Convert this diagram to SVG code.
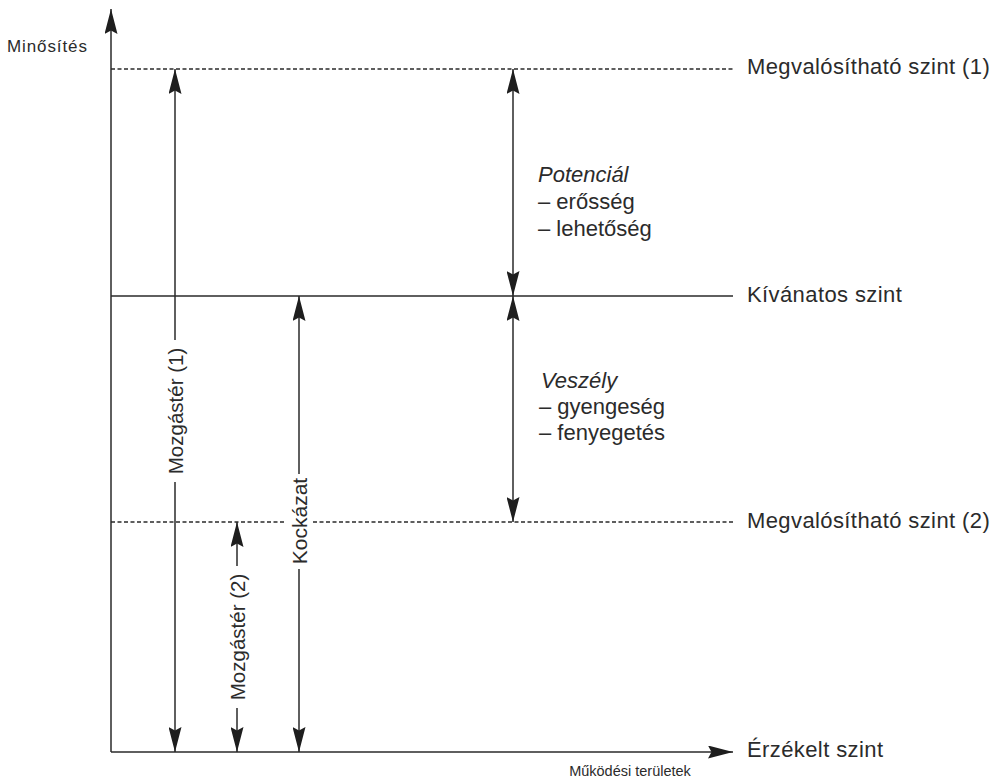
<svg xmlns="http://www.w3.org/2000/svg" width="1000" height="781" viewBox="0 0 1000 781">
  <style>
    .ln { stroke: #2a2a2a; stroke-width: 1.5; fill: none; }
    .dash { stroke: #2a2a2a; stroke-width: 1.4; stroke-dasharray: 4 2.5; fill: none; }
    .t { font-family: "Liberation Sans", Arial, sans-serif; fill: #2b2b2b; }
    .lvl { font-size: 22px; letter-spacing: 0.4px; }
    .sw { font-size: 22px; }
    .rot { font-size: 20.5px; text-anchor: middle; }
    .ax { font-size: 14.5px; }
  </style>
  <defs>
    <marker id="ah" viewBox="0 0 25 13" refX="25" refY="6.5" markerWidth="25" markerHeight="13" markerUnits="userSpaceOnUse" orient="auto-start-reverse">
      <path d="M0,0 L25,6.5 L0,13 L3.5,6.5 Z" fill="#1e1e1e"/>
    </marker>
  </defs>
  <rect width="1000" height="781" fill="#ffffff"/>

  <!-- level lines -->
  <g id="levels">
    <line class="dash" x1="111" y1="69" x2="735" y2="69"/>
    <line class="ln" x1="111" y1="296" x2="733" y2="296"/>
    <line class="dash" x1="111" y1="522" x2="285" y2="522"/>
    <line class="dash" x1="313" y1="522" x2="735" y2="522"/>
  </g>

  <!-- axes -->
  <g id="axes">
    <line class="ln" x1="111" y1="752" x2="111" y2="9" marker-end="url(#ah)"/>
    <line class="ln" x1="111" y1="752" x2="733" y2="752" marker-end="url(#ah)"/>
    <text class="t ax" x="7" y="52" style="font-size:17px;letter-spacing:0.9px">Minősítés</text>
    <text class="t ax" x="630" y="776" text-anchor="middle">Működési területek</text>
  </g>

  <!-- connectors -->
  <g id="connectors">
    <!-- Mozgástér (1) -->
    <line class="ln" x1="175" y1="340" x2="175" y2="69" marker-end="url(#ah)"/>
    <line class="ln" x1="175" y1="482" x2="175" y2="752" marker-end="url(#ah)"/>
    <!-- Mozgástér (2) -->
    <line class="ln" x1="237" y1="566" x2="237" y2="522" marker-end="url(#ah)"/>
    <line class="ln" x1="237" y1="708" x2="237" y2="752" marker-end="url(#ah)"/>
    <!-- Kockázat -->
    <line class="ln" x1="299" y1="474" x2="299" y2="296" marker-end="url(#ah)"/>
    <line class="ln" x1="299" y1="569" x2="299" y2="752" marker-end="url(#ah)"/>
    <!-- Potenciál / Veszély -->
    <line class="ln" x1="513" y1="69" x2="513" y2="296" marker-start="url(#ah)" marker-end="url(#ah)"/>
    <line class="ln" x1="513" y1="296" x2="513" y2="522" marker-start="url(#ah)" marker-end="url(#ah)"/>
  </g>

  <!-- level labels -->
  <g id="label-megv1"><text class="t lvl" x="747" y="74">Megvalósítható szint (1)</text></g>
  <g id="label-kivanatos"><text class="t lvl" x="747" y="302">Kívánatos szint</text></g>
  <g id="label-megv2"><text class="t lvl" x="747" y="528">Megvalósítható szint (2)</text></g>
  <g id="label-erzekelt"><text class="t lvl" x="747" y="757">Érzékelt szint</text></g>

  <!-- range labels -->
  <g id="label-mozgaster1"><text class="t rot" transform="translate(182.5,411) rotate(-90)">Mozgástér (1)</text></g>
  <g id="label-mozgaster2"><text class="t rot" transform="translate(244.5,637) rotate(-90)">Mozgástér (2)</text></g>
  <g id="label-kockazat"><text class="t rot" transform="translate(306.5,521) rotate(-90)" style="font-size:21px">Kockázat</text></g>

  <g id="potencial">
    <text class="t sw" x="538" y="182" font-style="italic">Potenciál</text>
    <text class="t sw" x="538" y="209">– erősség</text>
    <text class="t sw" x="538" y="236">– lehetőség</text>
  </g>
  <g id="veszely">
    <text class="t sw" x="541" y="388" font-style="italic">Veszély</text>
    <text class="t sw" x="539" y="414">– gyengeség</text>
    <text class="t sw" x="539" y="440">– fenyegetés</text>
  </g>
</svg>
